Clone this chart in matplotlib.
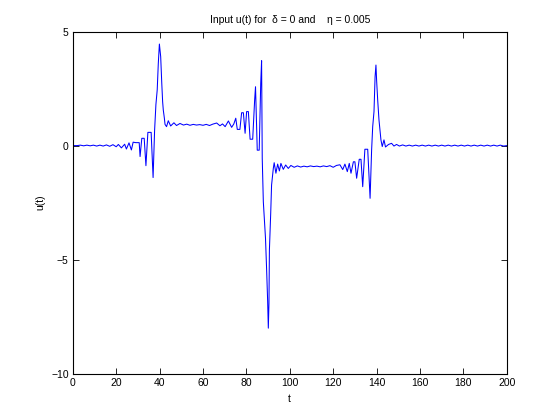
import matplotlib
matplotlib.use("Agg")
import matplotlib.pyplot as plt

# values
t = [0.0, 2.0, 3.5, 5.0, 6.5, 8.0, 9.5, 11.0, 12.5, 14.0, 15.5, 17.0, 18.5, 20.0,
     21.0, 22.4, 23.9, 24.7, 25.9, 27.0, 27.8, 29.0, 30.6, 31.0, 31.8, 32.9,
     33.7, 34.6, 36.1, 37.0, 37.7, 38.3, 38.9, 39.4, 39.9, 40.5, 41.0, 41.4,
     41.7, 42.2, 42.5, 43.2, 44.0, 45.1, 46.6, 47.8, 49.4, 51.0, 52.5, 54.0,
     55.5, 57.0, 58.5, 60.0, 61.5, 63.0, 64.5, 66.3, 67.8, 69.0, 70.2, 71.7,
     73.2, 74.2, 75.1, 75.8, 77.0, 77.8, 78.6, 79.4, 80.1, 80.9, 81.7, 82.9,
     83.8, 84.2, 85.0, 85.9, 86.6, 87.0, 87.3, 87.8, 88.3, 88.8, 89.3, 89.8,
     90.1, 90.4, 90.6, 91.2, 91.6, 92.4, 92.8, 93.6, 94.4, 95.2, 95.9, 97.0,
     98.1, 99.3, 100.5, 102.0, 103.5, 105.0, 106.5, 108.0, 109.5, 111.0,
     112.5, 114.0, 115.5, 117.0, 118.5, 120.0, 121.5, 123.1, 124.4, 125.4,
     126.5, 127.4, 128.2, 129.3, 130.0, 130.8, 132.0, 132.8, 133.6, 134.6,
     135.9, 137.0, 137.7, 138.2, 138.8, 139.3, 139.7, 140.0, 140.5, 141.1,
     141.6, 142.0, 142.6, 143.4, 144.1, 145.5, 146.9, 148.0, 149.2, 150.5,
     152.0, 153.5, 155.0, 156.5, 158.0, 159.5, 161.0, 162.5, 164.0, 165.5,
     167.0, 168.5, 170.0, 171.5, 173.0, 174.5, 176.0, 177.5, 179.0, 180.5,
     182.0, 183.5, 185.0, 186.5, 188.0, 189.5, 191.0, 192.5, 194.0, 195.5,
     197.0, 198.5, 200.0]
u = [0.0, 0.0, 0.02, -0.01, 0.02, -0.01, 0.02, -0.02, 0.02, -0.02, 0.03, -0.03, 0.04, -0.05,
     0.05, -0.1, 0.06, -0.15, 0.12, -0.19, 0.15, 0.13, 0.13, -0.48, 0.32, 0.32,
     -0.88, 0.58, 0.58, -1.4, 0.68, 1.8, 2.44, 3.6, 4.45, 3.9, 2.73, 1.92,
     1.56, 1.2, 0.93, 0.83, 1.09, 0.86, 1.0, 0.88, 0.97, 0.9, 0.94, 0.89,
     0.93, 0.9, 0.92, 0.89, 0.93, 0.88, 0.94, 0.99, 0.87, 0.95, 0.83, 1.08,
     0.8, 0.95, 1.2, 0.71, 0.71, 1.44, 1.44, 0.54, 1.49, 1.49, 0.28, 0.28,
     2.0, 2.58, -0.2, -0.2, 2.73, 3.72, -0.56, -2.46, -3.26, -4.06, -5.38, -6.84,
     -8.0, -6.91, -4.58, -2.97, -1.73, -1.0, -0.75, -1.21, -0.81, -1.11, -0.78, -1.04,
     -0.85, -1.0, -0.87, -0.95, -0.89, -0.94, -0.9, -0.93, -0.89, -0.92,
     -0.9, -0.93, -0.89, -0.92, -0.88, -0.95, -0.87, -0.84, -1.05, -0.81,
     -1.14, -0.78, -1.21, -0.71, -0.71, -1.43, -0.6, -0.6, -1.8, -0.16,
     -0.16, -2.31, -0.2, 0.83, 1.49, 3.02, 3.53, 2.87, 2.0, 1.12,
     0.61, 0.25, -0.04, 0.25, -0.06, 0.05, 0.1, -0.02, 0.05, -0.02,
     0.03, -0.02, 0.02, -0.02, 0.02, -0.02, 0.02, -0.02, 0.02, -0.02,
     0.02, -0.02, 0.02, -0.02, 0.02, -0.02, 0.02, -0.02, 0.02, -0.02,
     0.02, -0.02, 0.02, -0.02, 0.02, -0.02, 0.02, -0.02, 0.02, -0.02,
     0.02, -0.02, 0.0]

xticks = [0, 20, 40, 60, 80, 100, 120, 140, 160, 180, 200]
yticks = [-10, -5, 0, 5]

plt.rcParams['font.family'] = ['Liberation Sans', 'DejaVu Sans']
fig = plt.figure(figsize=(5.6, 4.2), dpi=100)
ax = fig.add_axes([0.13, 0.11, 0.775, 0.815])

ax.plot(t, u, color=(0, 0, 1), lw=0.75)

ax.set_xlim(0, 200)
ax.set_ylim(-10, 5)
ax.set_xticks(xticks)
ax.set_yticks(yticks)
ax.tick_params(direction='in', length=4, width=0.6, labelsize=7.5,
               top=True, right=True, pad=3)
for s in ax.spines.values():
    s.set_linewidth(0.8)

ax.set_title(u'Input u(t) for  \u03b4 = 0 and    \u03b7 = 0.005', fontsize=7.5, pad=6)
ax.set_xlabel('t', fontsize=7.5)
ax.set_ylabel('u(t)', fontsize=7.5)

fig.savefig('out.png', dpi=100)
